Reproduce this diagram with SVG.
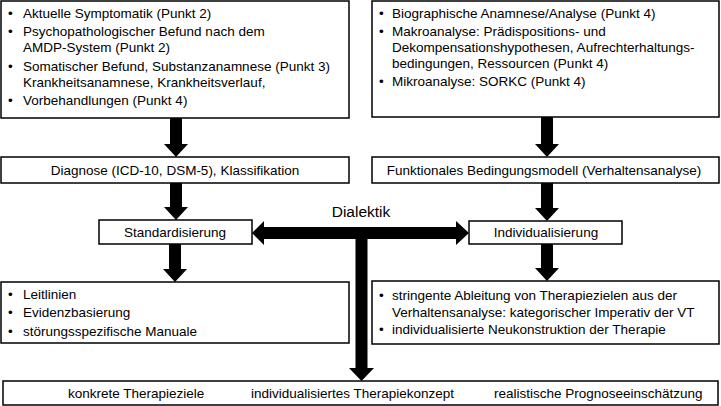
<svg xmlns="http://www.w3.org/2000/svg" width="721" height="406" viewBox="0 0 721 406">
<style>
.box{fill:#fff;stroke:#000;stroke-width:1.5}
text{font-family:"Liberation Sans",Arial,sans-serif;font-size:13.5px;fill:#000}
.c{text-anchor:middle}
.arr{fill:#000;stroke:none}
</style>
<g id="connectors">
<polygon class="arr" points="170,118 182,118 182,144 188,144 176,157 164,144 170,144"/>
<polygon class="arr" points="170,183 182,183 182,207 188,207 176,220 164,207 170,207"/>
<polygon class="arr" points="169,244 181,244 181,269 187,269 175,282 163,269 169,269"/>
<polygon class="arr" points="541,117 553,117 553,144 559,144 547,157 535,144 541,144"/>
<polygon class="arr" points="541,183 553,183 553,208 559,208 547,221 535,208 541,208"/>
<polygon class="arr" points="541,244 553,244 553,268 559,268 547,281 535,268 541,268"/>
<polygon class="arr" points="252,233 264,221 264,227 456,227 456,221 469,233 456,245 456,239 264,239 264,245"/>
<polygon class="arr" points="355.5,238 367.5,238 367.5,368 374,368 361.5,381 349,368 355.5,368"/>
<text x="361" y="217" class="c" style="font-size:15.5px">Dialektik</text>
</g>
<g id="node-befunde">
<rect class="box" x="1" y="1" width="348" height="117"/>
<text x="8" y="18">•</text><text x="23" y="18">Aktuelle Symptomatik (Punkt 2)</text>
<text x="8" y="36">•</text><text x="23" y="36">Psychopathologischer Befund nach dem</text>
<text x="23" y="52">AMDP-System (Punkt 2)</text>
<text x="8" y="71">•</text><text x="23" y="71">Somatischer Befund, Substanzanamnese (Punkt 3)</text>
<text x="23" y="87">Krankheitsanamnese, Krankheitsverlauf,</text>
<text x="8" y="105">•</text><text x="23" y="105">Vorbehandlungen (Punkt 4)</text>
</g>
<g id="node-analyse">
<rect class="box" x="372" y="1" width="347" height="116"/>
<text x="379" y="18">•</text><text x="392" y="18">Biographische Anamnese/Analyse (Punkt 4)</text>
<text x="379" y="36">•</text><text x="392" y="36">Makroanalyse: Prädispositions- und</text>
<text x="392" y="52">Dekompensationshypothesen, Aufrechterhaltungs-</text>
<text x="392" y="68">bedingungen, Ressourcen (Punkt 4)</text>
<text x="379" y="86">•</text><text x="392" y="86">Mikroanalyse: SORKC (Punkt 4)</text>
</g>
<g id="node-diagnose">
<rect class="box" x="1" y="157" width="348" height="26"/>
<text x="175" y="175" class="c">Diagnose (ICD-10, DSM-5), Klassifikation</text>
</g>
<g id="node-funktional">
<rect class="box" x="372" y="157" width="347" height="26"/>
<text x="544" y="175" class="c">Funktionales Bedingungsmodell (Verhaltensanalyse)</text>
</g>
<g id="node-standard">
<rect class="box" x="99" y="220" width="153" height="24"/>
<text x="175" y="237" class="c">Standardisierung</text>
</g>
<g id="node-individual">
<rect class="box" x="469" y="221" width="153" height="23"/>
<text x="546" y="237" class="c">Individualisierung</text>
</g>
<g id="node-leitlinien">
<rect class="box" x="1" y="282" width="348" height="61"/>
<text x="8" y="299">•</text><text x="23" y="299">Leitlinien</text>
<text x="8" y="317">•</text><text x="23" y="317">Evidenzbasierung</text>
<text x="8" y="336">•</text><text x="23" y="336">störungsspezifische Manuale</text>
</g>
<g id="node-ableitung">
<rect class="box" x="372" y="281" width="347" height="63"/>
<text x="379" y="300">•</text><text x="392" y="300">stringente Ableitung von Therapiezielen aus der</text>
<text x="392" y="317">Verhaltensanalyse: kategorischer Imperativ der VT</text>
<text x="379" y="334">•</text><text x="392" y="334">individualisierte Neukonstruktion der Therapie</text>
</g>
<g id="node-ergebnis">
<rect class="box" x="3" y="381" width="715" height="24"/>
<text x="68" y="398">konkrete Therapieziele</text>
<text x="251" y="398">individualisiertes Therapiekonzept</text>
<text x="494" y="398">realistische Prognoseeinschätzung</text>
</g>
</svg>
